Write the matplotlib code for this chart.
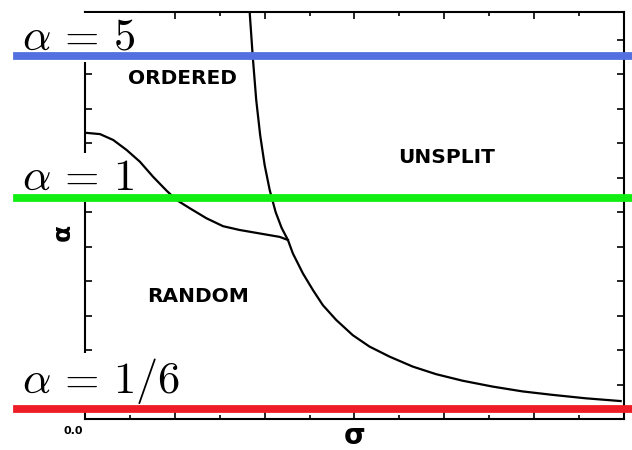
import matplotlib
matplotlib.use("Agg")
from matplotlib import pyplot as plt
from matplotlib.ticker import MultipleLocator

plt.rcParams['mathtext.fontset'] = 'cm'

# phase boundary: ordered / random
order_sigma = [0.0, 0.167, 0.314, 0.463, 0.611, 0.759, 0.908, 1.019, 1.167,
               1.352, 1.537, 1.722, 1.944, 2.167, 2.259]
order_alpha = [8.30, 8.26, 8.09, 7.80, 7.46, 7.02, 6.62, 6.35, 6.11,
               5.82, 5.59, 5.48, 5.38, 5.28, 5.19]

# phase boundary: split / unsplit
split_sigma = [1.833, 1.867, 1.906, 1.950, 2.0, 2.056, 2.122, 2.189, 2.259,
               2.314, 2.426, 2.537, 2.648, 2.797, 2.981, 3.167, 3.389, 3.648,
               3.908, 4.203, 4.537, 4.870, 5.203, 5.574, 5.963]
split_alpha = [11.8, 10.52, 9.25, 8.23, 7.36, 6.64, 6.00, 5.54, 5.19,
               4.80, 4.22, 3.74, 3.30, 2.87, 2.43, 2.10, 1.81, 1.52,
               1.30, 1.11, 0.94, 0.80, 0.70, 0.60, 0.52]

# horizontal cuts at fixed alpha
cut_labels = [r'$\alpha\,=\,5$', r'$\alpha\,=\,1$', r'$\alpha\,=\,1/6$']
cut_levels = [10.52, 6.41, 0.29]
cut_text_y = [10.70, 6.64, 0.75]
cut_colors = ['#5470e0', '#11ee11', '#ee1c24']

regions = ['ORDERED', 'UNSPLIT', 'RANDOM']
region_x = [1.089, 4.03, 1.256]
region_y = [9.88, 7.59, 3.54]

fig = plt.figure(figsize=(6.32, 4.5), dpi=100)
ax = fig.add_axes([0.1345, 0.0689, 0.8528, 0.9044])

ax.plot(order_sigma, order_alpha, color='black', lw=1.6,
        solid_joinstyle='round', zorder=3.5)
ax.plot(split_sigma, split_alpha, color='black', lw=1.6,
        solid_joinstyle='round', zorder=3.5)

ax.set_xlim(0, 6)
ax.set_ylim(0, 11.8)
ax.xaxis.set_major_locator(MultipleLocator(1))
ax.xaxis.set_minor_locator(MultipleLocator(0.5))
ax.yaxis.set_major_locator(MultipleLocator(1))
ax.tick_params(which='both', direction='in', top=True, right=True,
               labelbottom=False, labelleft=False, width=1.2)
ax.tick_params(which='major', length=5)
ax.tick_params(which='minor', length=3)
for sp in ax.spines.values():
    sp.set_linewidth(1.5)

for name, x, y in zip(regions, region_x, region_y):
    ax.text(x, y, name, ha='center', va='center', fontsize=14.5,
            fontweight='bold', family='DejaVu Sans')

ax.text(-0.244, 5.42, 'α', rotation=90, ha='center', va='center',
        fontsize=18, fontweight='bold', clip_on=False)
ax.text(3.0, -0.5, 'σ', ha='center', va='center', fontsize=20,
        fontweight='bold', clip_on=False)
ax.text(-0.13, -0.35, '0.0', ha='center', va='center', fontsize=8,
        fontweight='bold', clip_on=False)

for lab, lev, ty, col in zip(cut_labels, cut_levels, cut_text_y, cut_colors):
    ax.text(-0.70, ty, lab, ha='left', va='baseline', fontsize=32,
            zorder=3, clip_on=False,
            bbox=dict(facecolor='white', edgecolor='none', pad=2))
    ax.axhline(lev, xmin=-0.126, xmax=1.02, color=col, lw=5.6,
               zorder=4, clip_on=False)

fig.savefig('out.png', dpi=100)
